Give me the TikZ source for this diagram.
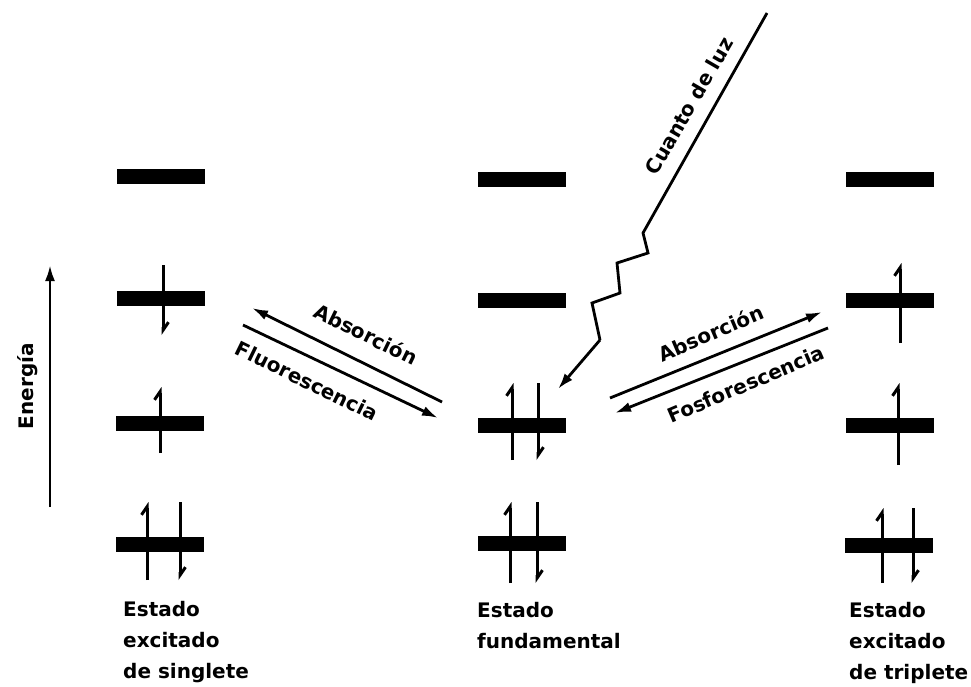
\documentclass[tikz,border=0pt]{standalone}
\usepackage{fontspec}
\setmainfont{DejaVu Sans}
\usetikzlibrary{arrows.meta,calc}
\begin{document}
\begin{tikzpicture}[x=1pt,y=-1pt,
  level/.style={fill=black,minimum width=88pt,minimum height=15pt,inner sep=0pt,outer sep=0pt},
  spinup/.style={line width=3pt,-{Straight Barb[left,length=8pt,width=11pt]}},
  spindown/.style={line width=3pt,-{Straight Barb[left,length=8pt,width=11pt]}},
  transition/.style={line width=2.8pt,-{Latex[length=16pt,width=10pt]}},
  txt/.style={font=\bfseries\fontsize{20}{31}\selectfont,inner sep=0pt},
  statelabel/.style={txt,align=left,anchor=north west}]
\useasboundingbox (0,0) rectangle (971,687);
% energy levels
\node[level] (s1) at (161,177) {};
\node[level] (s2) at (161,298) {};
\node[level] (s3) at (160,423) {};
\node[level] (s4) at (160,544) {};
\node[level] (m1) at (522,180) {};
\node[level] (m2) at (522,300) {};
\node[level] (m3) at (522,425) {};
\node[level] (m4) at (522,543) {};
\node[level] (t1) at (890,180) {};
\node[level] (t2) at (890,300) {};
\node[level] (t3) at (890,425) {};
\node[level] (t4) at (889,545) {};
% spins: singlet
\draw[spindown] ($(s2)+(2,-33)$) -- ($(s2)+(2,37)$);
\draw[spinup] ($(s3)+(0,30)$) -- ($(s3)+(0,-36)$);
\draw[spinup] ($(s4)+(-13,36)$) -- ($(s4)+(-13,-42)$);
\draw[spindown] ($(s4)+(20,-42)$) -- ($(s4)+(20,36)$);
% spins: ground
\draw[spinup] ($(m3)+(-10,35)$) -- ($(m3)+(-10,-42)$);
\draw[spindown] ($(m3)+(16,-42)$) -- ($(m3)+(16,35)$);
\draw[spinup] ($(m4)+(-12,40)$) -- ($(m4)+(-12,-41)$);
\draw[spindown] ($(m4)+(15,-41)$) -- ($(m4)+(15,40)$);
% spins: triplet
\draw[spinup] ($(t2)+(10,43)$) -- ($(t2)+(10,-37)$);
\draw[spinup] ($(t3)+(8,40)$) -- ($(t3)+(8,-42)$);
\draw[spinup] ($(t4)+(-7,38)$) -- ($(t4)+(-7,-37)$);
\draw[spindown] ($(t4)+(24,-37)$) -- ($(t4)+(24,38)$);
% energy axis
\coordinate (e0) at (50,507);
\coordinate (e1) at (50,265);
\draw[transition] (e0) -- (e1);
\node[txt,rotate=90] (en) at (28,386) {Energía};
% left transitions
\coordinate (la1s) at (442,402);
\coordinate (la1e) at (252,308);
\coordinate (lf1s) at (243,325);
\coordinate (lf1e) at (438,418);
\draw[transition] (la1s) -- (la1e);
\draw[transition] (lf1s) -- (lf1e);
\node[txt,rotate=-26] (absL) at (366,334) {Absorción};
\node[txt,rotate=-26] (fluo) at (307,381) {Fluorescencia};
% right transitions
\coordinate (ra1s) at (610,398);
\coordinate (ra1e) at (822,312);
\coordinate (rf1s) at (828,328);
\coordinate (rf1e) at (615,413);
\draw[transition] (ra1s) -- (ra1e);
\draw[transition] (rf1s) -- (rf1e);
\node[txt,rotate=23] (absR) at (711,333) {Absorción};
\node[txt,rotate=23] (fosf) at (746,384) {Fosforescencia};
% light quantum
\coordinate (q0) at (767,13);
\coordinate (q1) at (643,233);
\coordinate (q2) at (648,253);
\coordinate (q3) at (617,263);
\coordinate (q4) at (620,293);
\coordinate (q5) at (592,303);
\coordinate (q6) at (600,340);
\coordinate (q7) at (558,389);
\draw[line width=2.8pt,line join=miter] (q0) -- (q1) -- (q2) -- (q3) -- (q4) -- (q5) -- (q6);
\draw[transition] (q6) -- (q7);
\node[txt,rotate=60] (cl) at (689,106) {Cuanto de luz};
% state labels
\node[statelabel] (ls) at (123,601) {Estado\\excitado\\de singlete};
\node[statelabel] (lm) at (477,602) {Estado\\fundamental};
\node[statelabel] (lt) at (849,602) {Estado\\excitado\\de triplete};
\end{tikzpicture}
\end{document}
